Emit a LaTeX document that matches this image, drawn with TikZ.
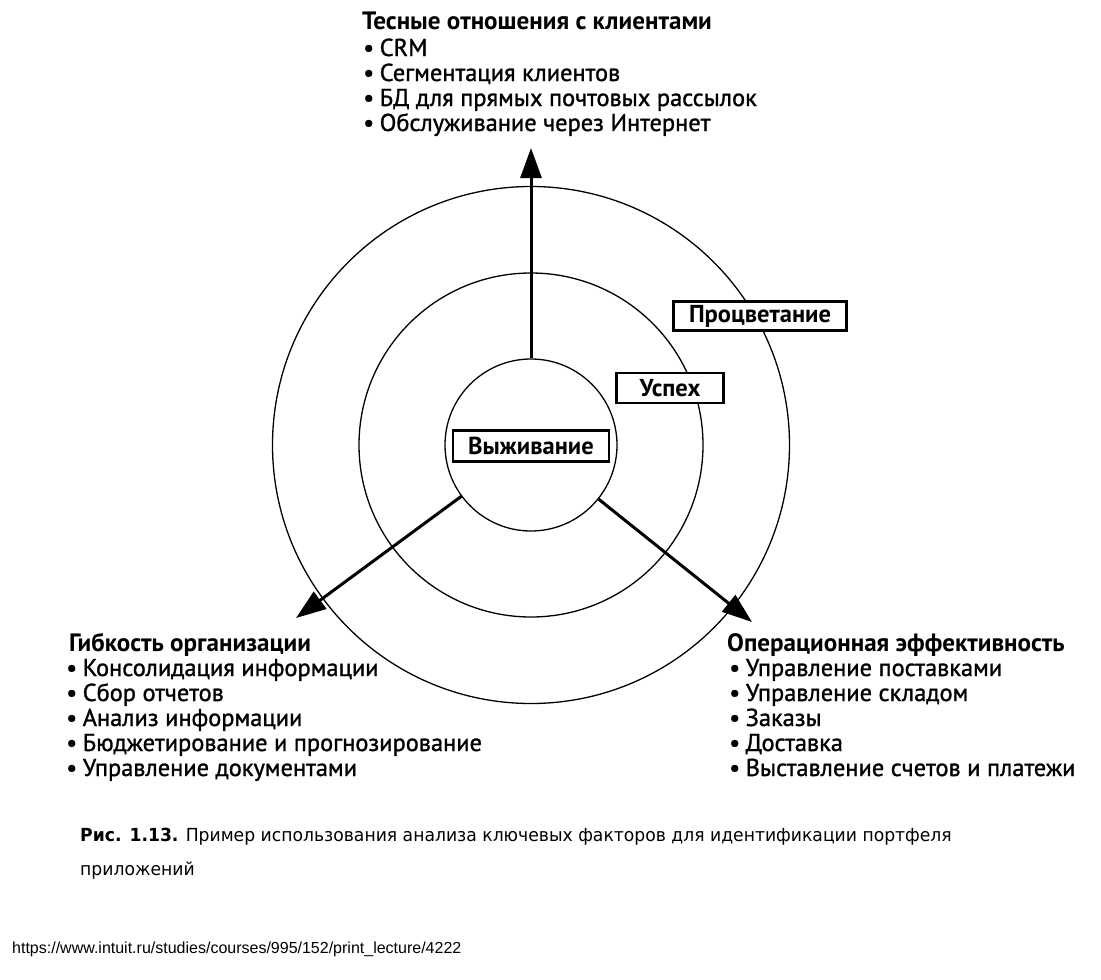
\documentclass[tikz,border=0pt]{standalone}
\usepackage{fontspec}
\setmainfont{PT Sans}
\newfontfamily\itemfont[FakeBold=1.2]{PT Sans}
\newfontfamily\capfont[FakeStretch=0.955]{DejaVu Sans}
\newfontfamily\urlfont{Liberation Sans}
\usetikzlibrary{arrows.meta}
\newcommand\blt{•\hspace{5.5pt}}
\begin{document}
\begin{tikzpicture}[x=1pt,y=-1pt,
  ring/.style={circle,draw,line width=1.3pt,inner sep=0pt},
  lvl/.style={draw,line width=2.6pt,fill=white,inner sep=0pt,font=\fontsize{24.5}{28}\selectfont\bfseries},
  head/.style={anchor=base west,inner sep=0pt,font=\fontsize{25.1}{28}\selectfont\bfseries},
  item/.style={anchor=base west,inner sep=0pt,font=\itemfont\fontsize{24.4}{28}\selectfont},
  axis/.style={line width=3pt,-{Triangle[length=30pt,width=21pt]}},
  captext/.style={anchor=base west,inner sep=0pt,font=\capfont\fontsize{18}{22}\selectfont}]
\fill[white] (0,0) rectangle (1101,980);
\useasboundingbox (0,0) rectangle (1101,980);
% rings
\node[ring,minimum size=517pt] (outer) at (531,445) {};
\node[ring,minimum size=344pt] (middle) at (531,445) {};
\node[ring,minimum size=172pt] (inner) at (531,445) {};
% arrow tips
\coordinate (tipT) at (531,148);
\coordinate (tipL) at (296,618);
\coordinate (tipR) at (752,622);
\draw[axis] (inner) -- (tipT);
\draw[axis] (inner) -- (tipL);
\draw[axis] (inner) -- (tipR);
% level labels
\node[lvl,minimum width=173pt,minimum height=29pt] (prosp) at (760,316) {Процветание};
\node[lvl,minimum width=107pt,minimum height=30pt] (succ) at (670,388) {Успех};
\node[lvl,minimum width=156pt,minimum height=31pt] (surv) at (531,446) {Выживание};
% top block
\node[head] (th) at (362,29) {Тесные отношения с клиентами};
\node[item] (t1) at (363,56) {\blt CRM};
\node[item] (t2) at (363,81) {\blt Сегментация клиентов};
\node[item] (t3) at (363,106) {\blt БД для прямых почтовых рассылок};
\node[item] (t4) at (363,131) {\blt Обслуживание через Интернет};
% left block
\node[head] (lh) at (69,651) {Гибкость организации};
\node[item] (l1) at (66,676) {\blt Консолидация информации};
\node[item] (l2) at (66,701) {\blt Сбор отчетов};
\node[item] (l3) at (66,726) {\blt Анализ информации};
\node[item] (l4) at (66,751) {\blt Бюджетирование и прогнозирование};
\node[item] (l5) at (66,776) {\blt Управление документами};
% right block
\node[head] (rh) at (727,651) {Операционная эффективность};
\node[item] (r1) at (729,676) {\blt Управление поставками};
\node[item] (r2) at (729,701) {\blt Управление складом};
\node[item] (r3) at (729,726) {\blt Заказы};
\node[item] (r4) at (729,751) {\blt Доставка};
\node[item] (r5) at (729,776) {\blt Выставление счетов и платежи};
% caption
\node[captext] (cap1) at (80,841) {\textbf{Рис. 1.13.} Пример использования анализа ключевых факторов для идентификации портфеля};
\node[captext] (cap2) at (80,875) {приложений};
\node[anchor=base west,inner sep=0pt,font=\urlfont\fontsize{16}{19}\selectfont] (url) at (12,953) {https://www.intuit.ru/studies/courses/995/152/print\_lecture/4222};
\end{tikzpicture}
\end{document}
